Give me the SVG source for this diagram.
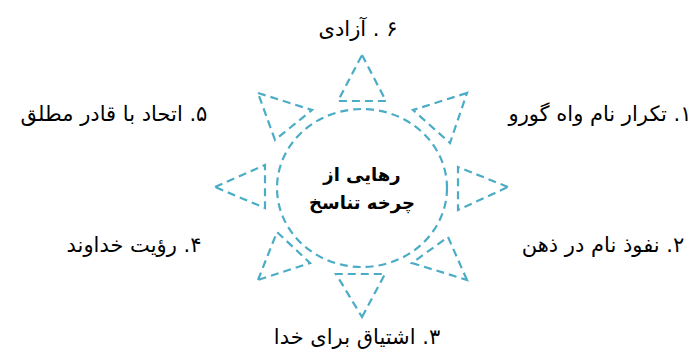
<svg xmlns="http://www.w3.org/2000/svg" width="696" height="355" viewBox="0 0 696 355">
<style>
.d{fill:none;stroke:#4BACC6;stroke-width:2.2;stroke-dasharray:8 5}
.t{font-family:"DejaVu Sans",sans-serif;font-size:21px;fill:#000;text-anchor:middle;direction:rtl}
.c{font-family:"DejaVu Sans",sans-serif;font-size:18px;font-weight:bold;fill:#000;text-anchor:middle;direction:rtl}
</style>
<rect width="696" height="355" fill="#fff"/>
<g id="rays">
<polygon class="d" points="362,55 386,101 338,101"/>
<polygon class="d" points="362,317 385,274 336,274"/>
<polygon class="d" points="508,187 458,167 458,210"/>
<polygon class="d" points="215,187 265,165 265,208"/>
<polygon class="d" points="467,93 413,110 450,143"/>
<polygon class="d" points="258,93 312,110 275,140"/>
<polygon class="d" points="258,280 277,232 310,263"/>
<polygon class="d" points="467,280 448,237 412,263"/>
</g>
<g id="center">
<ellipse class="d" cx="362" cy="188" rx="85" ry="79"/>
<text class="c" x="362" y="181">رهایی از</text>
<text class="c" x="362" y="209">چرخه تناسخ</text>
</g>
<g id="n6"><text class="t" x="358" y="36">۶ . آزادی</text></g>
<g id="n5"><text class="t" x="114" y="121">۵. اتحاد با قادر مطلق</text></g>
<g id="n1"><text class="t" x="600" y="121">۱. تکرار نام واه گورو</text></g>
<g id="n4"><text class="t" x="134" y="252">۴. رؤیت خداوند</text></g>
<g id="n2"><text class="t" x="603" y="252">۲. نفوذ نام در ذهن</text></g>
<g id="n3"><text class="t" x="357" y="344">۳. اشتیاق برای خدا</text></g>
</svg>
